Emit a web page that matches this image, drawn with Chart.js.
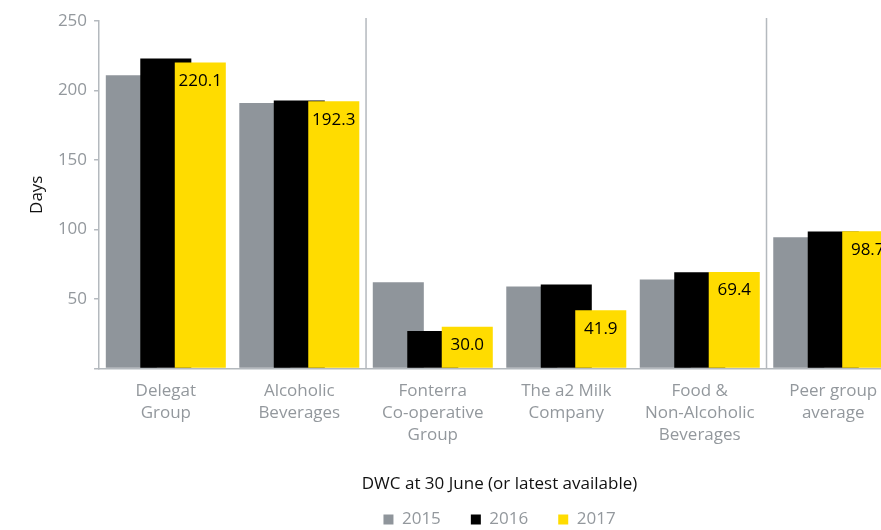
<!DOCTYPE html>
<html>
<head>
<meta charset="utf-8">
<script src="https://cdn.jsdelivr.net/npm/chart.js@4.4.1/dist/chart.umd.min.js"></script>
<style>
  html, body { margin: 0; padding: 0; background: #fff; overflow: hidden; }
  #wrap { width: 902px; height: 538px; }
</style>
</head>
<body>
<div id="wrap"><canvas id="chartDwc" width="902" height="538"></canvas></div>
<script>
// Data kategori dan nilai (hari)
const categories = [
  ['Delegat', 'Group'],
  ['Alcoholic', 'Beverages'],
  ['Fonterra', 'Co-operative', 'Group'],
  ['The a2 Milk', 'Company'],
  ['Food &', 'Non-Alcoholic', 'Beverages'],
  ['Peer group', 'average']
];
const years = ['2015', '2016', '2017'];
const values2015 = [211, 191, 62, 59, 64, 94.5];
const values2016 = [223, 192.8, 27, 60.5, 69.2, 98.5];
const values2017 = [220.1, 192.3, 30.0, 41.9, 69.4, 98.7];
const yTicks = [50, 100, 150, 200, 250];
const dividerAfter = [1, 4]; // garis pemisah setelah kategori ini

const grey = '#8f959b';
const axisGrey = '#b4b9be';
const labelGrey = '#93989d';
const fontFamily = '"Open Sans", sans-serif';

// Garis pemisah vertikal antar kelompok
const dividerPlugin = {
  id: 'dividers',
  beforeDatasetsDraw(chart) {
    const x = chart.scales.x;
    const area = chart.chartArea;
    const ctx = chart.ctx;
    ctx.save();
    ctx.strokeStyle = axisGrey;
    ctx.lineWidth = 1.5;
    dividerAfter.forEach((i) => {
      const px = (x.getPixelForValue(i) + x.getPixelForValue(i + 1)) / 2;
      ctx.beginPath();
      ctx.moveTo(px, area.top - 3);
      ctx.lineTo(px, area.bottom);
      ctx.stroke();
    });
    ctx.restore();
  }
};

// Batang digambar berurutan 2015 -> 2017 supaya kuning di atas
const drawOrderPlugin = {
  id: 'drawOrder',
  beforeDatasetDraw() {
    return false;
  },
  afterDatasetsDraw(chart) {
    chart.data.datasets.forEach((ds, i) => {
      const meta = chart.getDatasetMeta(i);
      if (!meta.hidden) meta.controller.draw();
    });
  }
};

// Label nilai pada batang 2017
const valueLabelPlugin = {
  id: 'valueLabels',
  afterDatasetsDraw(chart) {
    const meta = chart.getDatasetMeta(2);
    const ctx = chart.ctx;
    ctx.save();
    ctx.fillStyle = '#000';
    ctx.font = '17px ' + fontFamily;
    ctx.textAlign = 'center';
    ctx.textBaseline = 'middle';
    meta.data.forEach((bar, i) => {
      ctx.fillText(values2017[i].toFixed(1), bar.x, bar.y + 18.5);
    });
    ctx.restore();
  }
};

const ctx = document.getElementById('chartDwc').getContext('2d');

const barStyle = { categoryPercentage: 0.775, barPercentage: 1.48, borderWidth: 0 };

const myChart = new Chart(ctx, {
  type: 'bar',
  data: {
    labels: categories,
    datasets: [
      { label: years[0], data: values2015, backgroundColor: grey, ...barStyle },
      { label: years[1], data: values2016, backgroundColor: '#000000', ...barStyle },
      { label: years[2], data: values2017, backgroundColor: '#ffdc00', ...barStyle }
    ]
  },
  options: {
    responsive: false,
    animation: false,
    layout: { padding: { left: 27, right: 2, top: 21, bottom: 0 } },
    plugins: {
      tooltip: { enabled: false },
      legend: {
        position: 'bottom',
        fullSize: false,
        labels: {
          boxWidth: 10,
          boxHeight: 10,
          padding: 30,
          color: labelGrey,
          font: { family: fontFamily, size: 17 }
        }
      }
    },
    scales: {
      x: {
        z: 1,
        grid: { display: false, drawTicks: false },
        border: { display: true, color: axisGrey, width: 1.5 },
        ticks: {
          color: labelGrey,
          font: { family: fontFamily, size: 17, lineHeight: 1.32 },
          maxRotation: 0,
          autoSkip: false,
          padding: 11
        },
        title: {
          display: true,
          text: 'DWC at 30 June (or latest available)',
          color: '#111',
          font: { family: fontFamily, size: 17 },
          padding: { top: 16, bottom: -13.2 }
        }
      },
      y: {
        min: 0,
        max: 250,
        afterBuildTicks: (axis) => {
          axis.ticks = [0, ...yTicks].map((v) => ({ value: v }));
        },
        grid: {
          drawOnChartArea: false,
          drawTicks: true,
          tickLength: 5,
          tickColor: axisGrey,
          lineWidth: 1.5
        },
        border: { display: true, color: axisGrey, width: 1.5 },
        ticks: {
          color: labelGrey,
          font: { family: fontFamily, size: 17 },
          padding: 7,
          callback: (v) => (v === 0 ? '' : v)
        },
        title: {
          display: true,
          text: 'Days',
          color: '#111',
          font: { family: fontFamily, size: 17 },
          padding: { top: 0, bottom: 3.5 }
        }
      }
    }
  },
  plugins: [dividerPlugin, drawOrderPlugin, valueLabelPlugin]
});
</script>
</body>
</html>
